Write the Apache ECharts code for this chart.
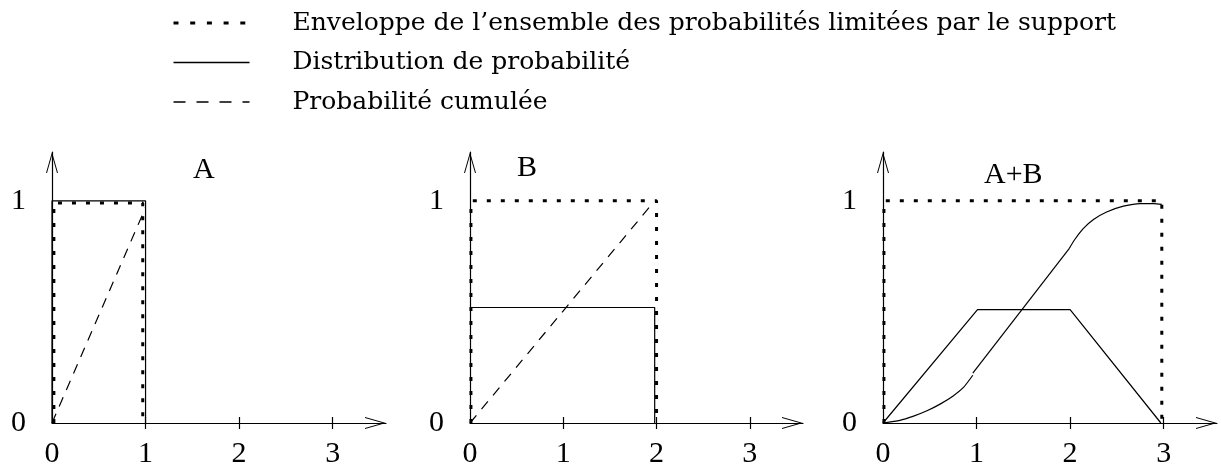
<!DOCTYPE html>
<html>
<head>
<meta charset="utf-8">
<script src="https://cdn.jsdelivr.net/npm/echarts@6/dist/echarts.min.js"></script>
<style>html,body{margin:0;background:#fff}#main{width:1221px;height:470px}</style>
</head>
<body>
<div id="main"></div>
<script>
// noms des trois courbes (légende)
var noms = ['Enveloppe de l\u2019ensemble des probabilités limitées par le support',
            'Distribution de probabilité',
            'Probabilité cumulée'];
var titres = ['A', 'B', 'A+B'];
var ticksX = [1, 2, 3];
var labelsX = [0, 1, 2, 3];
var labelsY = [0, 1];

// panneau A
var enveloppeA = [[0.02, 0], [0.02, 0.99], [0.97, 0.99], [0.97, 0]];
var distribA = [[0, 0], [0, 1], [1, 1], [1, 0]];
var cumulA = [[0, 0], [1, 0.97]];
// panneau B
var enveloppeB = [[0.01, 0], [0.01, 1], [2, 1], [2, 0]];
var distribB = [[0, 0.52], [1.98, 0.52], [1.98, 0]];
var cumulB = [[0, 0], [1.94, 0.98]];
// panneau A+B
var enveloppeC = [[0.01, 0], [0.01, 1], [2.98, 1], [2.98, 0]];
var distribC = [[0, 0], [1.01, 0.51], [2, 0.51], [2.97, 0]];
var cumulCbas = [[0, 0], [0.18, 0.012], [0.32, 0.03], [0.47, 0.055], [0.61, 0.085],
                 [0.75, 0.122], [0.86, 0.16], [0.96, 0.215]];
var cumulCmilieu = [[0.96, 0.225], [1.99, 0.785]];
var cumulChaut = [[1.99, 0.785], [2.05, 0.826], [2.14, 0.875], [2.25, 0.916], [2.39, 0.95],
                  [2.57, 0.976], [2.75, 0.988], [2.89, 0.988], [2.98, 0.984]];

var grilles = [
  {left: 52, top: 152, width: 334, height: 271},
  {left: 470, top: 152, width: 333, height: 271},
  {left: 883, top: 152, width: 334, height: 271}
];
var posTitres = [[193, 155], [517, 153], [984, 160]];

var fleche = 'path://M0,0 L6,21 L5,21 L0,3.5 L-5,21 L-6,21 Z';
var police = 'Liberation Serif';

var xAxes = [], yAxes = [], series = [], titresOpt = [];
grilles.forEach(function (g, i) {
  xAxes.push({
    type: 'value', gridIndex: i, min: 0, max: 3.57, position: 'bottom',
    splitLine: {show: false},
    axisLine: {onZero: false, lineStyle: {color: '#000', width: 1.2},
               symbol: ['none', fleche], symbolSize: [12, 21], symbolOffset: [0, -10.5]},
    axisTick: {show: true, customValues: ticksX, length: 6, lineStyle: {color: '#000', width: 1.2}},
    axisLabel: {customValues: labelsX, margin: 16, color: '#000', fontFamily: police, fontSize: 30}
  });
  // deuxième axe pour les graduations vers l'intérieur
  xAxes.push({
    type: 'value', gridIndex: i, min: 0, max: 3.57, position: 'bottom',
    splitLine: {show: false},
    axisLine: {show: false},
    axisTick: {show: true, inside: true, customValues: ticksX, length: 6, lineStyle: {color: '#000', width: 1.2}},
    axisLabel: {show: false}
  });
  yAxes.push({
    type: 'value', gridIndex: i, min: 0, max: 1.22,
    splitLine: {show: false},
    axisLine: {onZero: false, lineStyle: {color: '#000', width: 1.2},
               symbol: ['none', fleche], symbolSize: [12, 21], symbolOffset: [0, -10.5]},
    axisTick: {show: false},
    axisLabel: {customValues: labelsY, margin: 26, color: '#000', fontFamily: police, fontSize: 30}
  });
  titresOpt.push({
    text: titres[i], left: posTitres[i][0], top: posTitres[i][1], padding: 0,
    textStyle: {fontFamily: police, fontSize: 30, fontWeight: 'normal', color: '#000'}
  });
});

var styleEnv = {color: '#000', width: 3, type: [4, 10]};
var styleDist = {color: '#000', width: 1.2};
var styleCum = {color: '#000', width: 1.2, type: [10, 8]};

function courbe(nom, i, data, style, lisse) {
  return {
    name: nom, type: 'line', xAxisIndex: i * 2, yAxisIndex: i,
    data: data, symbol: 'none', smooth: lisse || false,
    lineStyle: style, animation: false, silent: true
  };
}

series.push(courbe(noms[0], 0, enveloppeA, styleEnv));
series.push(courbe(noms[1], 0, distribA, styleDist));
series.push(courbe(noms[2], 0, cumulA, styleCum));
series.push(courbe(noms[0], 1, enveloppeB, styleEnv));
series.push(courbe(noms[1], 1, distribB, styleDist));
series.push(courbe(noms[2], 1, cumulB, styleCum));
series.push(courbe(noms[0], 2, enveloppeC, styleEnv));
series.push(courbe(noms[1], 2, distribC, styleDist));
series.push(courbe(noms[2], 2, cumulCbas, styleDist, 0.2));
series.push(courbe(noms[2], 2, cumulCmilieu, styleDist));
series.push(courbe(noms[2], 2, cumulChaut, styleDist, 0.3));

var myChart = echarts.init(document.getElementById('main'));
var option = {
  backgroundColor: '#fff',
  animation: false,
  title: titresOpt,
  legend: {
    orient: 'vertical', left: 172, top: 10.5, padding: 0, itemGap: 14.5,
    itemWidth: 76, itemHeight: 14, selectedMode: false,
    itemStyle: {opacity: 0},
    textStyle: {fontFamily: 'DejaVu Serif', fontSize: 25, lineHeight: 25, color: '#000', padding: [0, 0, 0, 38]},
    data: [
      {name: noms[0], lineStyle: {width: 3, type: [5, 11.7], color: '#000'}},
      {name: noms[1], lineStyle: {width: 1.5, color: '#000'}},
      {name: noms[2], lineStyle: {width: 1.5, type: [12, 11], color: '#000'}}
    ]
  },
  grid: grilles,
  xAxis: xAxes,
  yAxis: yAxes,
  series: series
};
myChart.setOption(option, true);
</script>
</body>
</html>
